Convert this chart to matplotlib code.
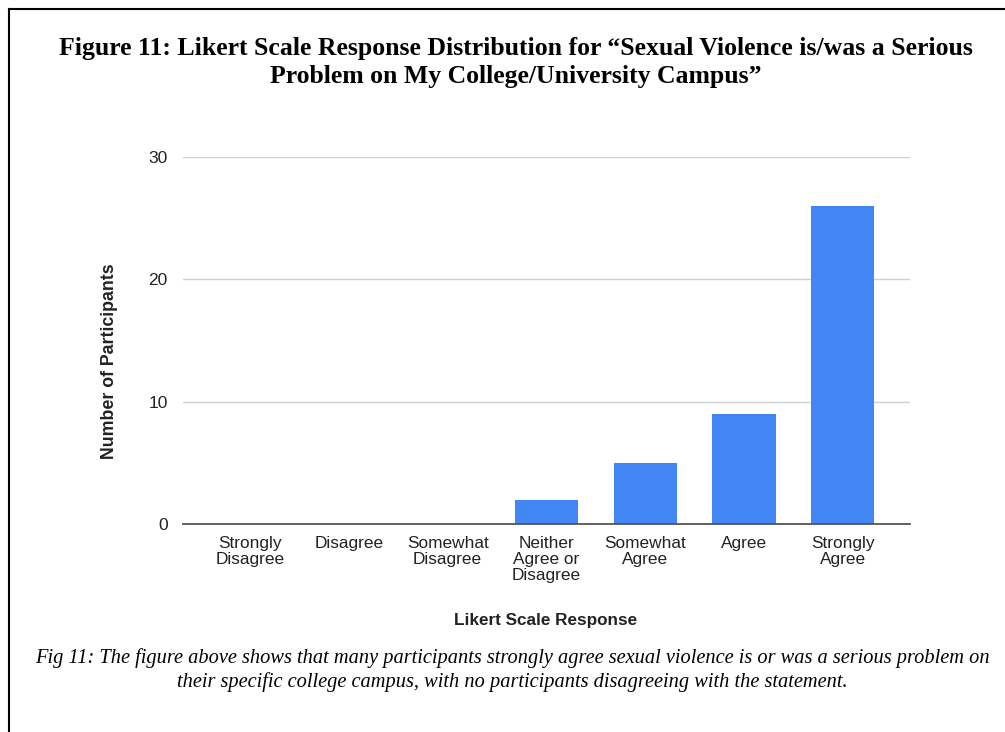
import matplotlib.pyplot as plt
from matplotlib.lines import Line2D

# Likert responses and participant counts
categories = ['Strongly\nDisagree', 'Disagree', 'Somewhat\nDisagree',
              'Neither\nAgree or\nDisagree', 'Somewhat\nAgree', 'Agree',
              'Strongly\nAgree']
counts = [0, 0, 0, 2, 5, 9, 26]
yticks = [0, 10, 20, 30]

title = ('Figure 11: Likert Scale Response Distribution for \u201cSexual Violence is/was a Serious\n'
         'Problem on My College/University Campus\u201d')
caption = ('Fig 11: The figure above shows that many participants strongly agree sexual violence is or was a serious problem on\n'
           'their specific college campus, with no participants disagreeing with the statement.')

fig = plt.figure(figsize=(10.05, 7.32), dpi=100)
ax = fig.add_axes([0.182, 0.2842, 0.7235, 0.5013])

x = range(len(categories))
ax.bar(x, counts, width=0.64, color='#4285f4', zorder=3)

ax.set_xlim(-0.68, 6.68)
ax.set_ylim(0, 30)
ax.set_yticks(yticks)
ax.set_xticks(list(x))
ax.set_xticklabels(categories, fontfamily='Liberation Sans', fontsize=12.4,
                   color='#222222', linespacing=1.08)
for lab in ax.get_yticklabels():
    lab.set_fontfamily('Liberation Sans')
    lab.set_fontsize(12.5)
    lab.set_color('#222222')
ax.tick_params(axis='both', length=0)
ax.tick_params(axis='x', pad=9)
ax.tick_params(axis='y', pad=11)

ax.grid(axis='y', color='#d0d0d0', linewidth=1, zorder=0)
for s in ['top', 'right', 'left']:
    ax.spines[s].set_visible(False)
ax.spines['bottom'].set_color('#555555')
ax.spines['bottom'].set_linewidth(1.3)
ax.spines['bottom'].set_zorder(4)

ax.set_xlabel('Likert Scale Response', fontfamily='Liberation Sans',
              fontweight='bold', fontsize=12.3, color='#222222', va='center')
ax.xaxis.set_label_coords(0.499, -0.262)
ax.set_ylabel('Number of Participants', fontfamily='Liberation Sans',
              fontweight='bold', fontsize=12.8, color='#222222')
ax.yaxis.set_label_coords(-0.089, 0.444)

fig.text(0.513, 0.915, title, ha='center', va='center', fontfamily='Liberation Serif',
         fontweight='bold', fontsize=18.5, linespacing=1.3)
fig.text(0.51, 0.085, caption, ha='center', va='center', fontfamily='Liberation Serif',
         fontstyle='italic', fontsize=14.7, linespacing=1.25)

# page border (top and left only)
fig.add_artist(Line2D([0.009, 1.0], [0.988, 0.988], transform=fig.transFigure,
                      color='black', linewidth=1.5))
fig.add_artist(Line2D([0.009, 0.009], [0.0, 0.988], transform=fig.transFigure,
                      color='black', linewidth=1.5))

fig.savefig('out.png', dpi=100)
